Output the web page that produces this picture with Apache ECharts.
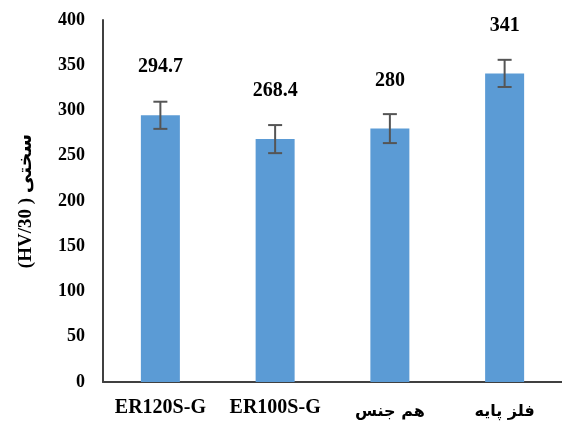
<!DOCTYPE html>
<html>
<head>
<meta charset="utf-8">
<script src="https://cdn.jsdelivr.net/npm/echarts@6/dist/echarts.min.js"></script>
<style>html,body{margin:0;padding:0;background:#fff}#c{width:562px;height:424px}</style>
</head>
<body>
<div id="c"></div>
<script>
const categories = ['ER120S-G', 'ER100S-G', 'هم جنس', 'فلز پایه'];
const hardness = [294.7, 268.4, 280, 341];
const errors = [15, 15.5, 16, 15];
const yTitle = '(HV/30 ) سختی';

const errData = hardness.map((v, i) => [i, v - errors[i], v + errors[i]]);
const serif = "'Liberation Serif', 'DejaVu Serif', 'DejaVu Sans', serif";

const chart = echarts.init(document.getElementById('c'), null, {renderer: 'canvas'});
chart.setOption({
  animation: false,
  grid: {left: 103, right: 0, top: 20, bottom: 42, containLabel: false},
  xAxis: {
    type: 'category',
    data: categories,
    axisLine: {lineStyle: {color: '#404040', width: 2}},
    axisTick: {show: false},
    axisLabel: {
      interval: 0, hideOverlap: false,
      color: '#000', fontFamily: serif, fontWeight: 'bold', fontSize: 20, margin: 16,
      formatter: function (v) { return /[A-Za-z]/.test(v) ? v : '{ar|' + v + '}'; },
      rich: {ar: {fontFamily: "'DejaVu Sans', sans-serif", fontSize: 16, fontWeight: 'bold', color: '#000', padding: [6, 0, 0, 0]}}
    }
  },
  yAxis: {
    type: 'value',
    min: 0, max: 400, interval: 50,
    name: yTitle,
    nameLocation: 'middle',
    nameGap: 67,
    nameRotate: 90,
    nameTextStyle: {color: '#000', fontFamily: serif, fontWeight: 'bold', fontSize: 19},
    axisLine: {show: true, lineStyle: {color: '#404040', width: 2}},
    axisTick: {show: false},
    splitLine: {show: false},
    axisLabel: {color: '#000', fontFamily: serif, fontWeight: 'bold', fontSize: 18, margin: 18}
  },
  series: [
    {
      type: 'bar',
      data: hardness,
      barWidth: 39,
      itemStyle: {color: '#5B9BD5'},
      label: {
        show: true, position: 'top', distance: 38,
        color: '#000', fontFamily: serif, fontWeight: 'bold', fontSize: 20
      }
    },
    {
      type: 'custom',
      data: errData,
      z: 10,
      renderItem: function (params, api) {
        const x = api.value(0);
        const lo = api.coord([x, api.value(1)]);
        const hi = api.coord([x, api.value(2)]);
        const hw = 7;
        const style = {stroke: '#555', lineWidth: 2};
        return {
          type: 'group',
          children: [
            {type: 'line', shape: {x1: hi[0], y1: hi[1], x2: lo[0], y2: lo[1]}, style: style},
            {type: 'line', shape: {x1: hi[0] - hw, y1: hi[1], x2: hi[0] + hw, y2: hi[1]}, style: style},
            {type: 'line', shape: {x1: lo[0] - hw, y1: lo[1], x2: lo[0] + hw, y2: lo[1]}, style: style}
          ]
        };
      }
    }
  ]
});
</script>
</body>
</html>
